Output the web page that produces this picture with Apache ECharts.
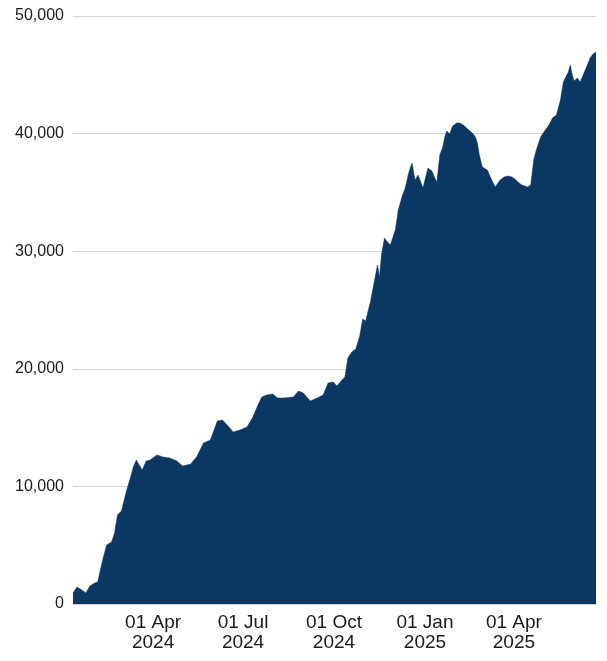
<!DOCTYPE html>
<html>
<head>
<meta charset="utf-8">
<script src="https://cdn.jsdelivr.net/npm/echarts@6/dist/echarts.min.js"></script>
<style>
html,body{margin:0;padding:0;background:#fff;}
#chart{width:607px;height:661px;}
</style>
</head>
<body>
<div id="chart"></div>
<script>
const dates = [
'2024-01-11','2024-01-15','2024-01-20','2024-01-24','2024-01-28','2024-02-02','2024-02-05','2024-02-07','2024-02-10','2024-02-14',
'2024-02-19','2024-02-22','2024-02-25','2024-02-29','2024-03-05','2024-03-09','2024-03-12','2024-03-15','2024-03-18','2024-03-21',
'2024-03-25','2024-03-29','2024-04-05','2024-04-11','2024-04-18','2024-04-25','2024-05-01','2024-05-09','2024-05-15','2024-05-22',
'2024-05-29','2024-06-05','2024-06-10','2024-06-15','2024-06-21','2024-06-28','2024-07-05','2024-07-11','2024-07-16','2024-07-20',
'2024-07-25','2024-07-31','2024-08-05','2024-08-11','2024-08-16','2024-08-21','2024-08-26','2024-08-31','2024-09-07','2024-09-14',
'2024-09-20','2024-09-25','2024-09-30','2024-10-04','2024-10-09','2024-10-12','2024-10-15','2024-10-19','2024-10-23','2024-10-27',
'2024-10-30','2024-11-02','2024-11-04','2024-11-07','2024-11-11','2024-11-14','2024-11-16','2024-11-18','2024-11-21','2024-11-24',
'2024-11-27','2024-11-30','2024-12-02','2024-12-05','2024-12-09','2024-12-12','2024-12-15','2024-12-17','2024-12-19','2024-12-21',
'2024-12-22','2024-12-25','2024-12-27','2024-12-30','2025-01-02','2025-01-04','2025-01-06','2025-01-08','2025-01-11','2025-01-13',
'2025-01-16','2025-01-19','2025-01-21','2025-01-23','2025-01-26','2025-01-29','2025-02-02','2025-02-05','2025-02-09','2025-02-12',
'2025-02-18','2025-02-21','2025-02-23','2025-02-25','2025-02-28','2025-03-05','2025-03-10','2025-03-13','2025-03-15','2025-03-18',
'2025-03-22','2025-03-26','2025-03-30','2025-04-02','2025-04-05','2025-04-09','2025-04-12','2025-04-15','2025-04-18','2025-04-21',
'2025-04-23','2025-04-26','2025-04-28','2025-05-02','2025-05-05','2025-05-08','2025-05-10','2025-05-14','2025-05-16','2025-05-18',
'2025-05-21','2025-05-24','2025-05-26','2025-05-28','2025-05-30','2025-06-01','2025-06-04','2025-06-07','2025-06-10','2025-06-13',
'2025-06-17','2025-06-20','2025-06-23'
];
const flows = [
940,1450,1190,940,1530,1790,1870,2640,3740,5020,
5270,6040,7570,7910,9610,10710,11650,12240,11820,11390,
12160,12240,12670,12500,12410,12160,11730,11900,12500,13690,
13950,15560,15650,15220,14630,14800,15050,15900,16920,17600,
17770,17860,17520,17510,17560,17600,18110,17940,17260,17520,
17770,18790,18880,18540,19050,19300,20920,21430,21680,22790,
24230,24060,23980,25760,27550,28830,27810,29680,31120,30780,
30530,31290,31800,33500,34690,35370,36480,37070,37500,36480,
36050,36480,36050,35370,36390,37070,37070,36820,36220,35880,
38180,38860,39710,40220,39960,40640,40900,40900,40730,40470,
40050,39710,39200,38180,37160,36900,35970,35460,35370,36050,
36310,36390,36310,36140,35880,35630,35540,35460,35630,37750,
38430,39200,39710,40220,40560,40980,41320,41580,41750,42860,
44390,44900,45240,45830,44980,44470,44730,44390,44980,45580,
46430,46770,46940
];
const xTickDates = ['2024-04-01','2024-07-01','2024-10-01','2025-01-01','2025-04-01'];
const yTicks = [0,10000,20000,30000,40000,50000];
const monthNames = ['Jan','Feb','Mar','Apr','May','Jun','Jul','Aug','Sep','Oct','Nov','Dec'];

function ts(s){ const p=s.split('-').map(Number); return Date.UTC(p[0],p[1]-1,p[2]); }

const chart = echarts.init(document.getElementById('chart'), null, {renderer:'canvas'});
const seriesData = dates.map((d,i)=>[ts(d), flows[i]]);
chart.setOption({
  animation:false,
  backgroundColor:'#ffffff',
  textStyle:{fontFamily:'"Liberation Sans", Arial, sans-serif'},
  grid:{left:73,right:11,top:16,bottom:57,containLabel:false},
  xAxis:{
    type:'value',
    min:ts(dates[0]),
    max:ts(dates[dates.length-1]),
    axisLine:{show:false},
    axisTick:{show:false},
    splitLine:{show:false},
    axisLabel:{
      customValues:xTickDates.map(ts),
      color:'#1a1a1a',
      fontSize:19,
      lineHeight:20,
      margin:9,
      align:'center',
      formatter:function(v){
        const d=new Date(v);
        return String(d.getUTCDate()).padStart(2,'0')+' '+monthNames[d.getUTCMonth()]+'\n'+d.getUTCFullYear();
      }
    }
  },
  yAxis:{
    type:'value',
    min:yTicks[0],
    max:yTicks[yTicks.length-1],
    interval:10000,
    axisLine:{show:false},
    axisTick:{show:false},
    splitLine:{show:true,lineStyle:{color:'#d4d4d4',width:1}},
    axisLabel:{
      color:'#1a1a1a',
      fontSize:16,
      margin:9,
      formatter:function(v){ return v.toLocaleString('en-US'); }
    }
  },
  series:[{
    type:'line',
    data:seriesData,
    showSymbol:false,
    symbol:'none',
    lineStyle:{width:0.5,color:'#0b3763'},
    areaStyle:{color:'#0b3763',opacity:1},
    silent:true
  }]
});
</script>
</body>
</html>
